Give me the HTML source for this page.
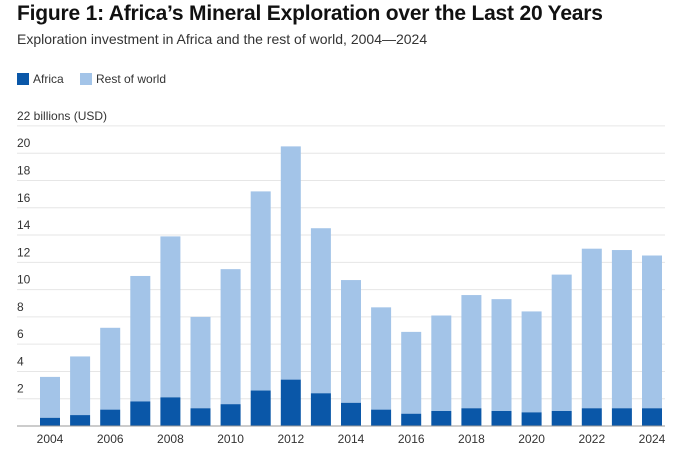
<!DOCTYPE html>
<html><head><meta charset="utf-8"><style>
body{margin:0;background:#fff;width:686px;height:454px;overflow:hidden;font-family:"Liberation Sans",sans-serif;}
h1{position:absolute;left:17px;top:2px;margin:0;font-size:21px;font-weight:bold;color:#111;letter-spacing:-0.2px;}
.sub{position:absolute;left:17px;top:31px;font-size:14px;color:#333;}
.leg{position:absolute;top:72px;font-size:12px;color:#333;}
.sw{display:inline-block;width:12px;height:12px;vertical-align:-2px;margin-right:4px;}
</style></head><body>
<h1>Figure 1: Africa’s Mineral Exploration over the Last 20 Years</h1>
<div class="sub">Exploration investment in Africa and the rest of world, 2004—2024</div>
<div class="leg" style="left:17px"><span class="sw" style="background:#0a57a8"></span>Africa</div>
<div class="leg" style="left:80px"><span class="sw" style="background:#a3c4e8"></span>Rest of world</div>
<svg id="c" width="686" height="454" style="position:absolute;left:0;top:0"></svg>
<script>
const years=[2004,2005,2006,2007,2008,2009,2010,2011,2012,2013,2014,2015,2016,2017,2018,2019,2020,2021,2022,2023,2024];
const totals=[3.6,5.1,7.2,11.0,13.9,8.0,11.5,17.2,20.5,14.5,10.7,8.7,6.9,8.1,9.6,9.3,8.4,11.1,13.0,12.9,12.5];
const africa=[0.6,0.8,1.2,1.8,2.1,1.3,1.6,2.6,3.4,2.4,1.7,1.2,0.9,1.1,1.3,1.1,1.0,1.1,1.3,1.3,1.3];
const yTicks=[2,4,6,8,10,12,14,16,18,20,22];
const svg=document.getElementById('c');const NS='http://www.w3.org/2000/svg';
const y=v=>426-v*13.64;const x=i=>50+i*30.1;
function mk(t,a){const e=document.createElementNS(NS,t);for(const k in a)e.setAttribute(k,a[k]);svg.appendChild(e);return e;}
yTicks.forEach(v=>{const g=mk('line',{x1:17,x2:665,y1:y(v),y2:y(v),stroke:'#e6e6e6'});


const t=mk('text',{x:17,y:y(v)-6,'font-size':12,fill:'#333','font-family':'Liberation Sans'});t.textContent=v===22?'22 billions (USD)':v;

});
years.forEach((yr,i)=>{
const r=mk('rect',{x:x(i)-10,y:y(totals[i]),width:20,height:y(africa[i])-y(totals[i]),fill:'#a3c4e8'});


const a=mk('rect',{x:x(i)-10,y:y(africa[i]),width:20,height:426-y(africa[i]),fill:'#0a57a8'});


if(i%2===0){const t=mk('text',{x:x(i),y:443,'font-size':12,fill:'#333','text-anchor':'middle','font-family':'Liberation Sans'});t.textContent=yr;

}
});
const ax=mk('line',{x1:17,x2:665,y1:426,y2:426,stroke:'#999'});


</script>
</body></html>
